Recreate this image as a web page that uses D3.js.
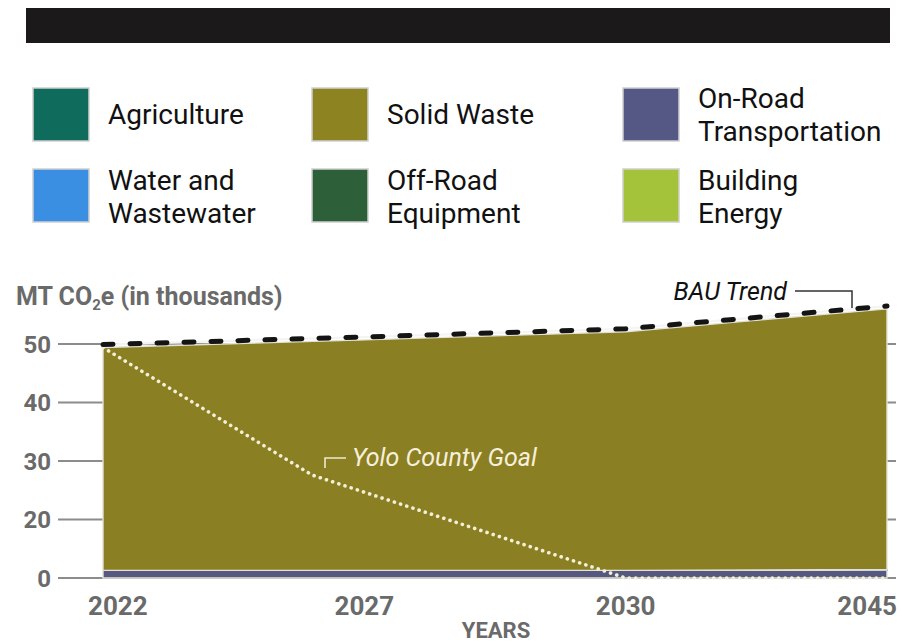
<!DOCTYPE html>
<html><head><meta charset="utf-8">
<script src="https://cdn.jsdelivr.net/npm/d3@7"></script>
<style>body{margin:0;background:#fff;} text{font-family:Roboto, "Noto Sans", sans-serif;}</style>
</head><body><svg id="c" width="902" height="644"></svg>
<script>
// ---- data ----
const years = [2022, 2027, 2030, 2045];
const onRoad = [2.6, 2.6, 2.6, 2.6];
const water = [0, 0, 0, 0.3];
const agriculture = [0, 0, 0, 0];
const offRoad = [0, 0, 0, 0];
const buildingEnergy = [0, 0, 0, 0];
const solidWaste = [46.8, 48.1, 49.5, 53.1];
const bauTrend = [49.9, 51.2, 52.6, 56.5];
const goalYears = [2022, 2026, 2030, 2045];
const goalValues = [49.4, 27.6, 0, 0];
const yTicks = [0, 20, 30, 40, 50];
const yearLabels = ["2022", "2027", "2030", "2045"];
const seriesKeys = ["onRoad", "water", "agriculture", "offRoad", "buildingEnergy", "solidWaste"];
const legendKeys = ["agriculture", "solidWaste", "onRoad", "water", "offRoad", "buildingEnergy"];
const legendLines = [["Agriculture"], ["Solid Waste"], ["On-Road", "Transportation"], ["Water and", "Wastewater"], ["Off-Road", "Equipment"], ["Building", "Energy"]];
const colors = {agriculture:"#0f6b5b", solidWaste:"#8b7f24", onRoad:"#56587f", water:"#3b8fe3", offRoad:"#2d5f38", buildingEnergy:"#a5c23b"};
const swatchColors = {agriculture:"#0f6b5b", solidWaste:"#8d8421", onRoad:"#555884", water:"#3b8fe3", offRoad:"#2d5f38", buildingEnergy:"#a5c23b"};

const seriesData = {onRoad, water, agriculture, offRoad, buildingEnergy, solidWaste};
const table = years.map((yr, i) => {
  const row = {year: yr};
  seriesKeys.forEach(k => row[k] = seriesData[k][i]);
  return row;
});

const svg = d3.select("#c");
const plotL = 103, plotR = 887, plotB = 578, yStep = 58.5;
const gray = "#6a6a6a";

// title bar
svg.append("rect").attr("x", 26).attr("y", 8).attr("width", 864).attr("height", 35).attr("fill", "#1b1919");

// legend
const colX = [33, 312, 623], rowY = [88, 169];
legendKeys.forEach((k, i) => {
  const cx = colX[i % 3], cy = rowY[Math.floor(i / 3)];
  svg.append("rect").attr("x", cx).attr("y", cy).attr("width", 56).attr("height", 53)
    .attr("fill", swatchColors[k]).attr("stroke", "#cfcfcf").attr("stroke-width", 1.5);
  const lines = legendLines[i];
  const mid = cy + 26.5 + (Math.floor(i/3) === 1 ? 1 : 0);
  lines.forEach((ln, j) => {
    const off = lines.length === 1 ? 0 : (j === 0 ? -16.5 : 16.5);
    svg.append("text").attr("x", cx + 75).attr("y", mid + off).attr("dy", "0.35em")
      .attr("font-size", 28).attr("fill", "#111").text(ln);
  });
});

// scales (piecewise)
const x = d3.scaleLinear().domain(years).range(years.map((d, i) => plotL + i * (plotR - plotL) / (years.length - 1)));
const y = d3.scaleLinear().domain(yTicks).range(yTicks.map((d, i) => plotB - i * yStep));

// gridlines / ticks
yTicks.forEach(t => {
  svg.append("line").attr("x1", 58).attr("x2", 896).attr("y1", y(t)).attr("y2", y(t))
    .attr("stroke", "#8c8c8c").attr("stroke-width", 2);
  svg.append("text").attr("x", 51).attr("y", y(t)).attr("dy", "0.36em").attr("text-anchor", "end")
    .attr("font-size", 24).attr("font-weight", "bold").attr("fill", gray).text(t);
});

// stacked areas
const stack = d3.stack().keys(seriesKeys)(table);
const area = d3.area().x(d => x(d.data.year)).y0(d => y(d[0])).y1(d => y(d[1]));
svg.append("g").selectAll("path").data(stack).join("path")
  .attr("d", area).attr("fill", d => colors[d.key])
  .attr("stroke", d => d.key === "water" ? "#6fb3f0" : "#e4e2d6").attr("stroke-width", 1.4);

// goal line
const goalLine = d3.line().x(d => x(d[0])).y(d => y(d[1]));
svg.append("path").attr("d", goalLine(goalYears.map((g, i) => [g, goalValues[i]])))
  .attr("fill", "none").attr("stroke", "#f5efd6").attr("stroke-width", 3.6)
  .attr("stroke-linecap", "round").attr("stroke-dasharray", "0.1,6.4");

// BAU line
const bauPts = years.map((yr, i) => [yr, bauTrend[i]]);
svg.append("path").attr("d", goalLine(bauPts)).attr("fill", "none").attr("stroke", "#f4f4f4").attr("stroke-width", 2.2);
svg.append("path").attr("d", goalLine(bauPts)).attr("fill", "none").attr("stroke", "#141414")
  .attr("stroke-width", 5).attr("stroke-linecap", "round").attr("stroke-dasharray", "10,17");

// BAU annotation
const bauAt = d3.scaleLinear().domain(years).range(bauTrend);
const lx = 852;
svg.append("path").attr("d", `M795,291H${lx}V${y(bauAt(x.invert(lx))) - 1}`)
  .attr("fill", "none").attr("stroke", "#333").attr("stroke-width", 1.5);
svg.append("text").attr("x", 787).attr("y", 300).attr("text-anchor", "end")
  .attr("font-size", 25).attr("font-style", "italic").attr("fill", "#111").text("BAU Trend");

// goal annotation
svg.append("path").attr("d", "M325,468V458H346").attr("fill", "none").attr("stroke", "#f0e9cf").attr("stroke-width", 1.6);
svg.append("text").attr("x", 352).attr("y", 466).attr("font-size", 25).attr("font-style", "italic")
  .attr("fill", "#f6f0da").text("Yolo County Goal");

// y title
const yt = svg.append("text").attr("x", 16).attr("y", 305).attr("font-size", 25).attr("font-weight", "bold").attr("fill", gray);
yt.append("tspan").text("MT CO");
yt.append("tspan").attr("font-size", 15).attr("dy", 5).text("2");
yt.append("tspan").attr("dy", -5).text("e (in thousands)");

// x labels
years.forEach((yr, i) => {
  const last = years.length - 1;
  const anchor = i === 0 ? "start" : (i === last ? "end" : "middle");
  const dx = i === 0 ? -15 : (i === last ? 10 : 0);
  svg.append("text").attr("x", x(yr) + dx).attr("y", 615).attr("text-anchor", anchor)
    .attr("font-size", 26).attr("font-weight", "bold").attr("fill", gray).text(yearLabels[i]);
});
svg.append("text").attr("x", 496).attr("y", 638).attr("text-anchor", "middle")
  .attr("font-size", 22).attr("font-weight", "bold").attr("fill", gray).text("YEARS");
</script></body></html>
